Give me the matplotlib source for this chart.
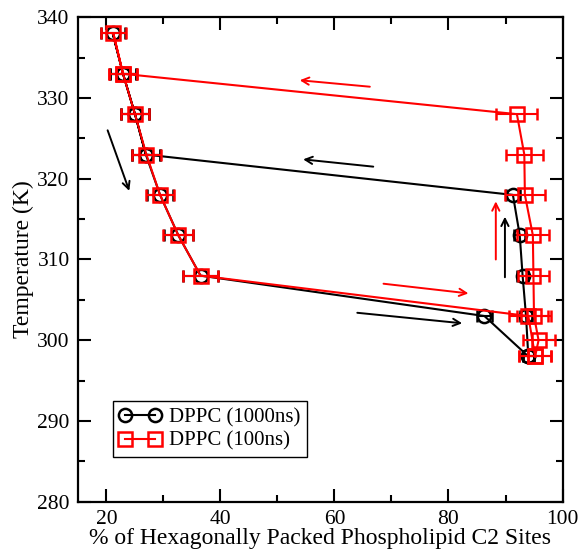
import matplotlib
matplotlib.use("Agg")
import matplotlib.pyplot as plt
from matplotlib.lines import Line2D

plt.rcParams['font.family'] = ['Liberation Serif', 'DejaVu Serif']
plt.rcParams['mathtext.fontset'] = 'stix'

# Data: 1000 ns (black circles)
T_black = [298, 303, 308, 313, 318, 323, 328, 333, 338, 333, 328, 323, 318, 313, 308, 303, 298]
x_black = [94.0, 93.6, 93.0, 92.5, 91.3, 26.9, 25.0, 22.9, 21.1, 22.9, 25.0, 26.9, 29.4, 32.6, 36.5, 86.3, 94.0]
err_black = [1.0, 1.0, 1.0, 1.0, 1.3, 2.4, 2.4, 2.3, 2.1, 2.3, 2.4, 2.4, 2.3, 2.5, 3.0, 1.3, 1.0]

# Data: 100 ns (red squares)
T_red = [298, 300, 303, 308, 313, 318, 323, 328, 333, 338, 333, 328, 323, 318, 313, 308, 303, 298]
x_red = [95.2, 95.8, 95.0, 94.9, 94.8, 93.4, 93.3, 92.0, 22.9, 21.2, 22.9, 25.0, 27.0, 29.4, 32.6, 36.5, 94.0, 95.2]
err_red = [2.8, 2.8, 3.0, 2.75, 2.8, 3.5, 3.2, 3.6, 2.4, 2.2, 2.4, 2.5, 2.5, 2.4, 2.6, 3.1, 3.4, 2.8]

labels = ["DPPC (1000ns)", "DPPC (100ns)"]

# Arrows (start x, start y, end x, end y)
arrow_black = [(20.2, 326.0, 24.0, 318.5), (66.8, 321.5, 54.5, 322.4),
               (64.0, 303.4, 82.4, 302.1), (89.9, 307.8, 89.9, 315.3)]
arrow_red = [(66.2, 331.4, 53.9, 332.2), (68.6, 307.0, 83.5, 305.8),
             (88.3, 310.0, 88.3, 317.2)]

fig = plt.figure(figsize=(5.82, 5.52), dpi=100)
ax = fig.add_axes([0.134, 0.0911, 0.8325, 0.8776])

ax.errorbar(x_black, T_black, xerr=err_black, color='black', lw=1.5,
            marker='o', ms=9.5, mfc='none', mec='black', mew=1.8,
            ecolor='black', elinewidth=1.5, capsize=4.5, capthick=1.5, zorder=3)
ax.errorbar(x_red, T_red, xerr=err_red, color='red', lw=1.5,
            marker='s', ms=9.5, mfc='none', mec='red', mew=1.8,
            ecolor='red', elinewidth=1.5, capsize=4.5, capthick=1.5, zorder=4)

for (x0, y0, x1, y1) in arrow_black:
    ax.annotate('', xy=(x1, y1), xytext=(x0, y0),
                arrowprops=dict(arrowstyle='->', color='black', lw=1.4,
                                mutation_scale=13, shrinkA=0, shrinkB=0))
for (x0, y0, x1, y1) in arrow_red:
    ax.annotate('', xy=(x1, y1), xytext=(x0, y0),
                arrowprops=dict(arrowstyle='->', color='red', lw=1.4,
                                mutation_scale=13, shrinkA=0, shrinkB=0))

ax.set_xlim(15, 100)
ax.set_ylim(280, 340)
ax.set_xticks([20, 40, 60, 80, 100])
ax.set_xticks([30, 50, 70, 90], minor=True)
ax.set_yticks([280, 290, 300, 310, 320, 330, 340])
ax.set_yticks([285, 295, 305, 315, 325, 335], minor=True)
ax.tick_params(which='both', direction='in', top=True, right=True,
               width=1.5, labelsize=15.5, pad=6)
ax.tick_params(which='major', length=9.5)
ax.tick_params(which='minor', length=5)
for s in ax.spines.values():
    s.set_linewidth(1.6)

ax.set_xlabel("% of Hexagonally Packed Phospholipid C2 Sites", fontsize=17, labelpad=-1)
ax.set_ylabel("Temperature (K)", fontsize=17, labelpad=2)

handles = [Line2D([], [], color='black', lw=1.5, marker='o', ms=9.5, mfc='none', mew=1.8),
           Line2D([], [], color='red', lw=1.5, marker='s', ms=9.5, mfc='none', mew=1.8)]
leg = ax.legend(handles, labels, loc='lower left', bbox_to_anchor=(0.072, 0.092),
                borderaxespad=0, numpoints=2, fontsize=15, handlelength=2.0,
                fancybox=False, framealpha=1, edgecolor='black',
                handletextpad=0.4, borderpad=0.3, labelspacing=0.2)
leg.get_frame().set_linewidth(1.0)

fig.savefig("out.png", dpi=100)
